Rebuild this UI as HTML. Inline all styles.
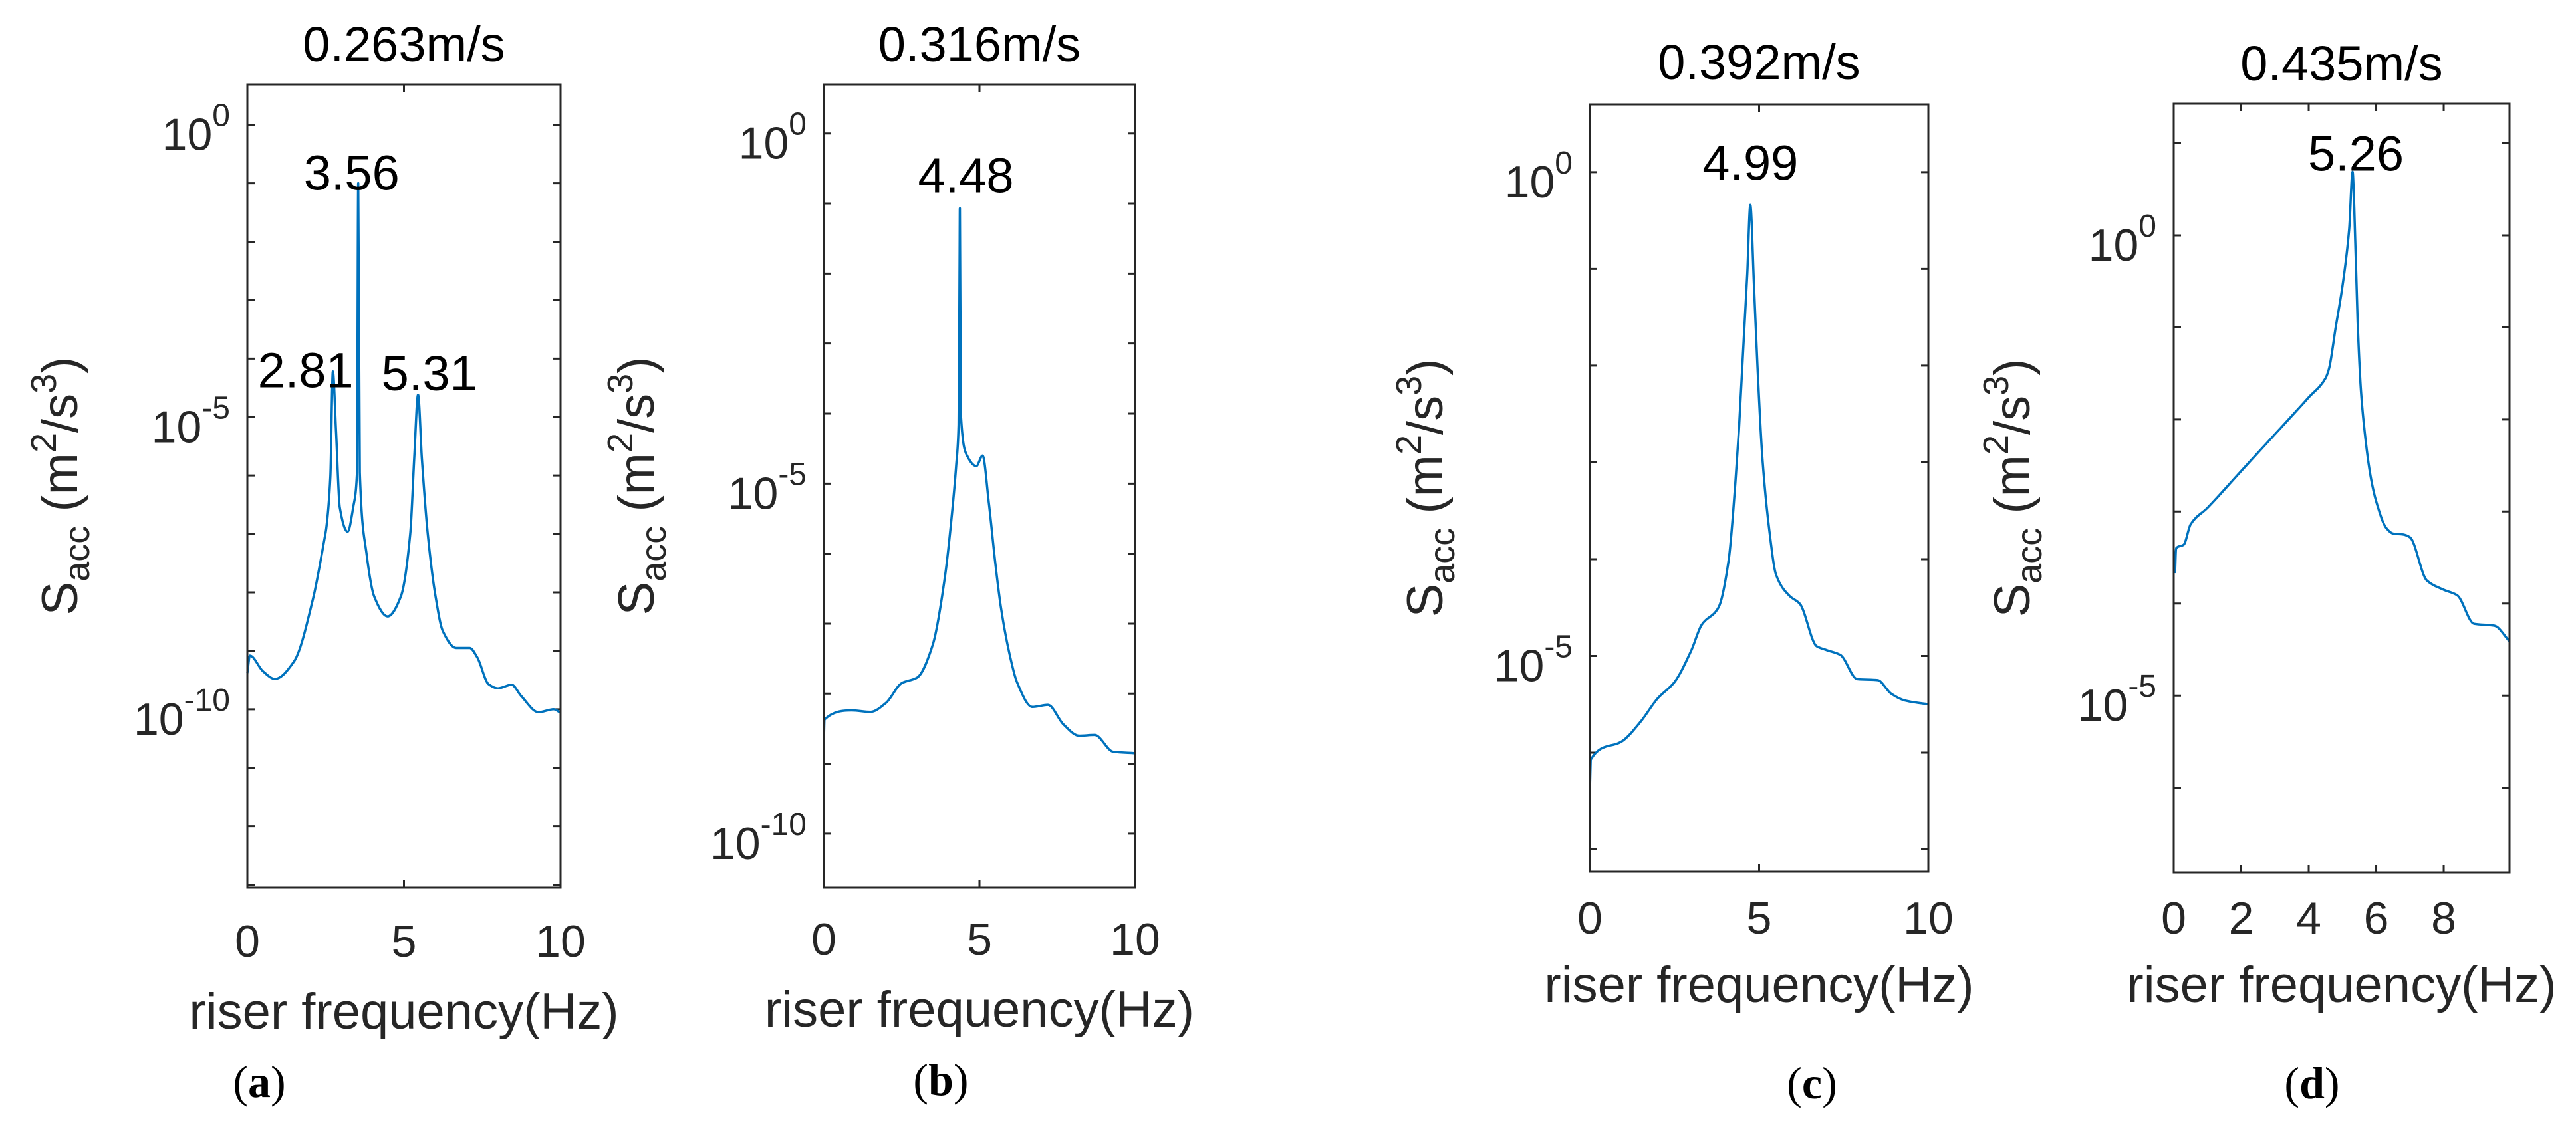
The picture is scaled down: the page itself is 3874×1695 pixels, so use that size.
<!DOCTYPE html>
<html><head><meta charset="utf-8"><style>
html,body{margin:0;padding:0;background:#fff;}
svg{display:block;font-family:"Liberation Sans",sans-serif;}
</style></head><body>
<svg id="fig" width="3874" height="1695" viewBox="0 0 3874 1695" xmlns="http://www.w3.org/2000/svg"></svg>
<script>
// ---- data (frequency in Hz, log10 of S_acc) ----
const freqA = [0,0.08,0.5,0.88,1.49,2.1,2.46,2.52,2.65,2.73,2.83,2.95,3.2,3.38,3.5,3.54,3.59,3.8,4.05,4.48,4.9,5.2,5.33,5.45,5.57,5.76,6.0,6.24,6.67,7.1,7.34,7.7,8.0,8.44,8.74,9.3,9.78,10];
const logA  = [-9.38,-9.08,-9.35,-9.48,-9.18,-8.1,-7.09,-6.9,-6.02,-4.22,-5.23,-6.54,-6.96,-6.54,-5.95,-1.0,-5.95,-7.32,-8.07,-8.41,-8.07,-7.0,-5.69,-4.62,-5.69,-7.0,-8.04,-8.66,-8.95,-8.95,-9.11,-9.57,-9.64,-9.58,-9.77,-10.05,-10.0,-10.06];
const freqB = [0,0.02,0.9,1.5,2.0,2.5,3.0,3.5,3.9,4.1,4.25,4.33,4.36,4.37,4.4,4.6,4.9,5.1,5.3,5.5,5.7,6.0,6.2,6.7,7.2,7.7,8.2,8.7,9.3,10];
const logB  = [-8.65,-8.37,-8.24,-8.26,-8.13,-7.85,-7.77,-7.3,-6.3,-5.5,-4.75,-4.16,-2.0,-1.07,-4.0,-4.6,-4.75,-4.6,-5.27,-6.1,-6.8,-7.5,-7.83,-8.19,-8.16,-8.44,-8.6,-8.59,-8.83,-8.85];
const freqC = [0,0.03,1.0,1.5,2.0,2.5,3.0,3.3,3.8,4.1,4.3,4.4,4.55,4.65,4.74,4.85,4.95,5.1,5.3,5.5,5.9,6.2,6.7,7.0,7.4,7.9,8.5,8.9,9.3,10];
const logC  = [-6.37,-6.07,-5.87,-5.68,-5.44,-5.27,-4.94,-4.68,-4.5,-4.01,-3.2,-2.68,-1.7,-1.05,-0.34,-1.19,-2.0,-2.97,-3.7,-4.16,-4.38,-4.46,-4.9,-4.94,-4.99,-5.24,-5.25,-5.39,-5.46,-5.5];
const freqD = [0.04,0.07,0.3,0.5,1.0,2.0,3.0,4.0,4.5,4.6,4.8,5.0,5.2,5.3,5.35,5.45,5.55,5.7,5.85,6.0,6.3,6.5,6.8,7.0,7.5,8.0,8.4,8.9,9.5,9.95];
const logD  = [-3.67,-3.4,-3.36,-3.14,-2.96,-2.56,-2.16,-1.76,-1.55,-1.45,-1.0,-0.55,0.07,0.69,0.3,-0.94,-1.7,-2.27,-2.65,-2.89,-3.18,-3.24,-3.25,-3.28,-3.75,-3.85,-3.91,-4.22,-4.24,-4.41];
const titles = ["0.263m/s","0.316m/s","0.392m/s","0.435m/s"];
const panelLetters = ["a","b","c","d"];
const peakLabelsA = ["2.81","3.56","5.31"]; const peakFreqA = [2.73,3.54,5.45]; const peakLogA = [-4.22,-1.0,-4.62];
const peakLabelsB = ["4.48"]; const peakFreqB = [4.37]; const peakLogB = [-1.07];
const peakLabelsC = ["4.99"]; const peakFreqC = [4.74]; const peakLogC = [-0.34];
const peakLabelsD = ["5.26"]; const peakFreqD = [5.3]; const peakLogD = [0.69];
const yTickDecadesA = [0,-5,-10]; const yTickDecadesB = [0,-5,-10]; const yTickDecadesC = [0,-5]; const yTickDecadesD = [0,-5];
const xTicksA = [0,5,10]; const xTicksB = [0,5,10]; const xTicksC = [0,5,10]; const xTicksD = [0,2,4,6,8];

// ---- layout ----
const panels = [
 {x0:372,x1:843,y0:127,y1:1335,xmin:0,xmax:10,ymin:-13.05,ymax:0.69,fx:freqA,ly:logA,yt:yTickDecadesA,xt:xTicksA,pl:peakLabelsA,pf:peakFreqA,pv:peakLogA,pdx:[-41,-10,17],pdy:[24,10,-7],ylx:88,lx:390,lb:1650,tb:92,xlb:1547,tkb:1439},
 {x0:1239,x1:1707,y0:127,y1:1335,xmin:0,xmax:10,ymin:-10.77,ymax:0.70,fx:freqB,ly:logB,yt:yTickDecadesB,xt:xTicksB,pl:peakLabelsB,pf:peakFreqB,pv:peakLogB,pdx:[9],pdy:[-24],ylx:955,lx:1415,lb:1647,tb:92,xlb:1544,tkb:1436},
 {x0:2391,x1:2900,y0:157,y1:1311,xmin:0,xmax:10,ymin:-7.23,ymax:0.70,fx:freqC,ly:logC,yt:yTickDecadesC,xt:xTicksC,pl:peakLabelsC,pf:peakFreqC,pv:peakLogC,pdx:[0],pdy:[-38],ylx:2141,lx:2725,lb:1652,tb:119,xlb:1507,tkb:1404},
 {x0:3269,x1:3774,y0:156,y1:1312,xmin:0,xmax:9.95,ymin:-6.92,ymax:1.43,fx:freqD,ly:logD,yt:yTickDecadesD,xt:xTicksD,pl:peakLabelsD,pf:peakFreqD,pv:peakLogD,pdx:[5],pdy:[-2],ylx:3024,lx:3477,lb:1652,tb:121,xlb:1507,tkb:1404}
];
const NS="http://www.w3.org/2000/svg";
const svg=document.getElementById('fig');
function mk(tag,parent){const e=document.createElementNS(NS,tag);parent.appendChild(e);return e;}
function monoPath(X,Y){
  const n=X.length;const dx=[],m=[];
  for(let i=0;i<n-1;i++){dx.push(X[i+1]-X[i]);m.push((Y[i+1]-Y[i])/(X[i+1]-X[i]));}
  const t=[m[0]];
  for(let i=1;i<n-1;i++){t.push(m[i-1]*m[i]<=0?0:3*(dx[i-1]+dx[i])/((2*dx[i]+dx[i-1])/m[i-1]+(dx[i]+2*dx[i-1])/m[i]));}
  t.push(m[n-2]);
  let d=`M${X[0].toFixed(1)} ${Y[0].toFixed(1)}`;
  for(let i=0;i<n-1;i++){const h=dx[i]/3;
    d+=`C${(X[i]+h).toFixed(1)} ${(Y[i]+t[i]*h).toFixed(1)} ${(X[i+1]-h).toFixed(1)} ${(Y[i+1]-t[i+1]*h).toFixed(1)} ${X[i+1].toFixed(1)} ${Y[i+1].toFixed(1)}`;}
  return d;
}
panels.forEach((p,i)=>{
  const g=mk('g',svg);
  
  
  const sx=v=>p.x0+(v-p.xmin)/(p.xmax-p.xmin)*(p.x1-p.x0);
  const sy=v=>p.y1-(v-p.ymin)/(p.ymax-p.ymin)*(p.y1-p.y0);
  const tk=mk('path',g);
  
  
  let d='';
  for(let k=Math.ceil(p.ymin);k<=Math.floor(p.ymax);k++){const y=sy(k);d+=`M${p.x0} ${y}h11M${p.x1} ${y}h-11`;}
  p.xt.forEach(v=>{const x=sx(v);d+=`M${x} ${p.y1}v-11M${x} ${p.y0}v11`;});
  tk.setAttribute('d',d);tk.setAttribute('stroke','#262626');tk.setAttribute('stroke-width','3');
  const ln=mk('path',g);
  
  
  ln.setAttribute('d',monoPath(p.fx.map(sx),p.ly.map(sy)));
  ln.setAttribute('fill','none');ln.setAttribute('stroke','#0072BD');ln.setAttribute('stroke-width','3.5');ln.setAttribute('stroke-linejoin','round');
  const bx=mk('rect',g);
  
  
  bx.setAttribute('x',p.x0);bx.setAttribute('y',p.y0);bx.setAttribute('width',p.x1-p.x0);bx.setAttribute('height',p.y1-p.y0);
  bx.setAttribute('fill','none');bx.setAttribute('stroke','#262626');bx.setAttribute('stroke-width','3');
  p.yt.forEach(k=>{
    const t=mk('text',g);
    
    
    t.setAttribute('x',p.x0-26);t.setAttribute('y',sy(k)+38);t.setAttribute('text-anchor','end');
    t.setAttribute('font-size','68');t.setAttribute('fill','#262626');
    t.innerHTML='10<tspan font-size="48" dy="-36">'+(k===0?'0':'-'+(-k))+'</tspan>';
  });
  p.xt.forEach(v=>{
    const t=mk('text',g);
    
    
    t.setAttribute('x',sx(v));t.setAttribute('y',p.tkb);t.setAttribute('text-anchor','middle');
    t.setAttribute('font-size','68');t.setAttribute('fill','#262626');t.textContent=v;
  });
  const cx=(p.x0+p.x1)/2;
  const ti=mk('text',g);
  
  
  ti.setAttribute('x',cx);ti.setAttribute('y',p.tb);ti.setAttribute('text-anchor','middle');ti.setAttribute('font-size','74');ti.textContent=titles[i];
  const xl=mk('text',g);
  
  
  xl.setAttribute('x',cx);xl.setAttribute('y',p.xlb);xl.setAttribute('text-anchor','middle');xl.setAttribute('font-size','76');xl.setAttribute('fill','#262626');xl.textContent='riser frequency(Hz)';
  const yl=mk('text',g);
  
  
  const yc=(p.y0+p.y1)/2;
  yl.setAttribute('transform',`translate(${p.ylx+28},${yc}) rotate(-90)`);
  yl.setAttribute('text-anchor','middle');yl.setAttribute('font-size','76');yl.setAttribute('fill','#262626');
  yl.innerHTML='S<tspan font-size="54" dy="18">acc</tspan><tspan dy="-18"> (m</tspan><tspan font-size="54" dy="-32">2</tspan><tspan dy="32">/s</tspan><tspan font-size="54" dy="-32">3</tspan><tspan dy="32">)</tspan>';
  p.pl.forEach((s,j)=>{
    const t=mk('text',g);
    
    
    t.setAttribute('x',sx(p.pf[j])+p.pdx[j]);t.setAttribute('y',sy(p.pv[j])+p.pdy[j]);
    t.setAttribute('text-anchor','middle');t.setAttribute('font-size','74');t.textContent=s;
  });
  const lt=mk('text',g);
  
  
  lt.setAttribute('x',p.lx);lt.setAttribute('y',p.lb);lt.setAttribute('text-anchor','middle');lt.setAttribute('font-size','68');
  lt.setAttribute('font-family','"Liberation Serif",serif');
  lt.innerHTML='(<tspan font-weight="bold">'+panelLetters[i]+'</tspan>)';
});
</script>
</body></html>
